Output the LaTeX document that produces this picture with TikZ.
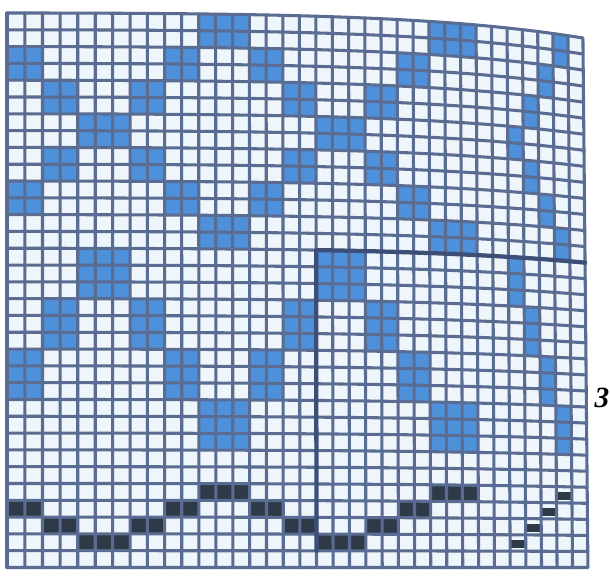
\documentclass[tikz,border=0pt]{standalone}
\usepackage{fontspec}
\usepackage{tikz}
\usetikzlibrary{calc}
\newfontfamily\labelfont{Liberation Serif}
\definecolor{gridc}{HTML}{5A6C92}
\definecolor{cellbg}{HTML}{EEF6FB}
\definecolor{bluec}{HTML}{4F90DA}
\definecolor{darkc}{HTML}{2E3A48}
\definecolor{thickc}{HTML}{3D4F77}
\tikzset{
  gridline/.style={draw=gridc, line width=2.3pt, line join=round, line cap=round},
  thickline/.style={draw=thickc, line width=3.2pt, line join=round, line cap=round},
  blueblk/.style={fill=bluec},
  darkblk/.style={fill=darkc},
  lbl/.style={font=\labelfont\fontsize{22}{22}\selectfont\bfseries\itshape, text=black, inner sep=0pt}
}
\begin{document}
\begin{tikzpicture}[x=0.75pt,y=-0.75pt]
\useasboundingbox (0,0) rectangle (610,577);
% grid points (distorted chart)
\foreach \i in {0,...,35}{
  \pgfmathsetmacro\gt{\i/35}
  \pgfmathsetmacro\gxx{7+17.83*\i-0.0352*\i*\i}
  \pgfmathsetmacro\gtop{13+25*(0.3*\gt*\gt+0.7*\gt*\gt*\gt*\gt)}
  \pgfmathsetmacro\gh{(567.5-\gtop)/33}
  \foreach \j in {0,...,33}{
    \pgfmathsetmacro\gy{\gtop+\gh*\j}
    \pgfmathsetmacro\gx{\gxx-5*\gt*\gt*\gt*(1-\j/33)}
    \coordinate (p-\i-\j) at (\gx,\gy);
  }
}
% background of cells
\fill[cellbg] (p-0-0) foreach \i in {1,...,35}{ -- (p-\i-0)} -- (p-35-33) -- (p-0-33) -- cycle;
% blue blocks: col start / col end / row start / row end
\foreach \a/\b/\c/\d in {
  11/14/0/2, 0/2/2/4, 9/11/2/4, 14/16/2/4, 2/4/4/6, 7/9/4/6, 16/18/4/6,
  4/7/6/8, 18/21/6/8, 2/4/8/10, 7/9/8/10, 16/18/8/10, 0/2/10/12, 9/11/10/12,
  14/16/10/12, 11/14/12/14, 25/28/0/2, 23/25/2/4, 21/23/4/6, 21/23/8/10,
  23/25/10/12, 25/28/12/14,
  33/34/0/2, 32/33/2/4, 31/32/4/6, 30/31/6/8, 31/32/8/10, 32/33/10/12, 33/34/12/14,
  4/7/14/17, 2/4/17/20, 7/9/17/20, 0/2/20/23, 9/11/20/23, 14/16/20/23, 11/14/23/26,
  16/18/17/20, 18/21/14/17, 21/23/17/20, 23/25/20/23, 25/28/23/26,
  30/31/14/17, 31/32/17/20, 32/33/20/23, 33/34/23/26}{
  \fill[blueblk] (p-\a-\c) -- (p-\b-\c) -- (p-\b-\d) -- (p-\a-\d) -- cycle;
}
% dark blocks (lower border)
\foreach \a/\b/\c/\d in {
  0/2/29/30, 9/11/29/30, 14/16/29/30, 23/25/29/30,
  2/4/30/31, 7/9/30/31, 16/18/30/31, 21/23/30/31,
  4/7/31/32, 18/21/31/32,
  11/14/28/29, 25/28/28/29}{
  \fill[darkblk] (p-\a-\c) -- (p-\b-\c) -- (p-\b-\d) -- (p-\a-\d) -- cycle;
}
% small dark marks (diagonal)
\foreach \a/\b/\c/\d in {30/31/31/32, 31/32/30/31, 32/33/29/30, 33/34/28/29}{
  \fill[darkblk] ($(p-\a-\c)+(1,5)$) rectangle ($(p-\b-\d)+(-1,-3)$);
}
% grid lines
\foreach \i in {0,...,35}{
  \draw[gridline] (p-\i-0) -- (p-\i-33);
}
\foreach \j in {0,...,33}{
  \draw[gridline] (p-0-\j) foreach \i in {1,...,35}{ -- (p-\i-\j)};
}
% repeat outline
\draw[thickline] (p-18-14) foreach \i in {19,...,35}{ -- (p-\i-14)};
\draw[thickline] (p-18-14) -- (p-18-32);
% label
\node[lbl] (num) at (602,398) {3};
\end{tikzpicture}
\end{document}
